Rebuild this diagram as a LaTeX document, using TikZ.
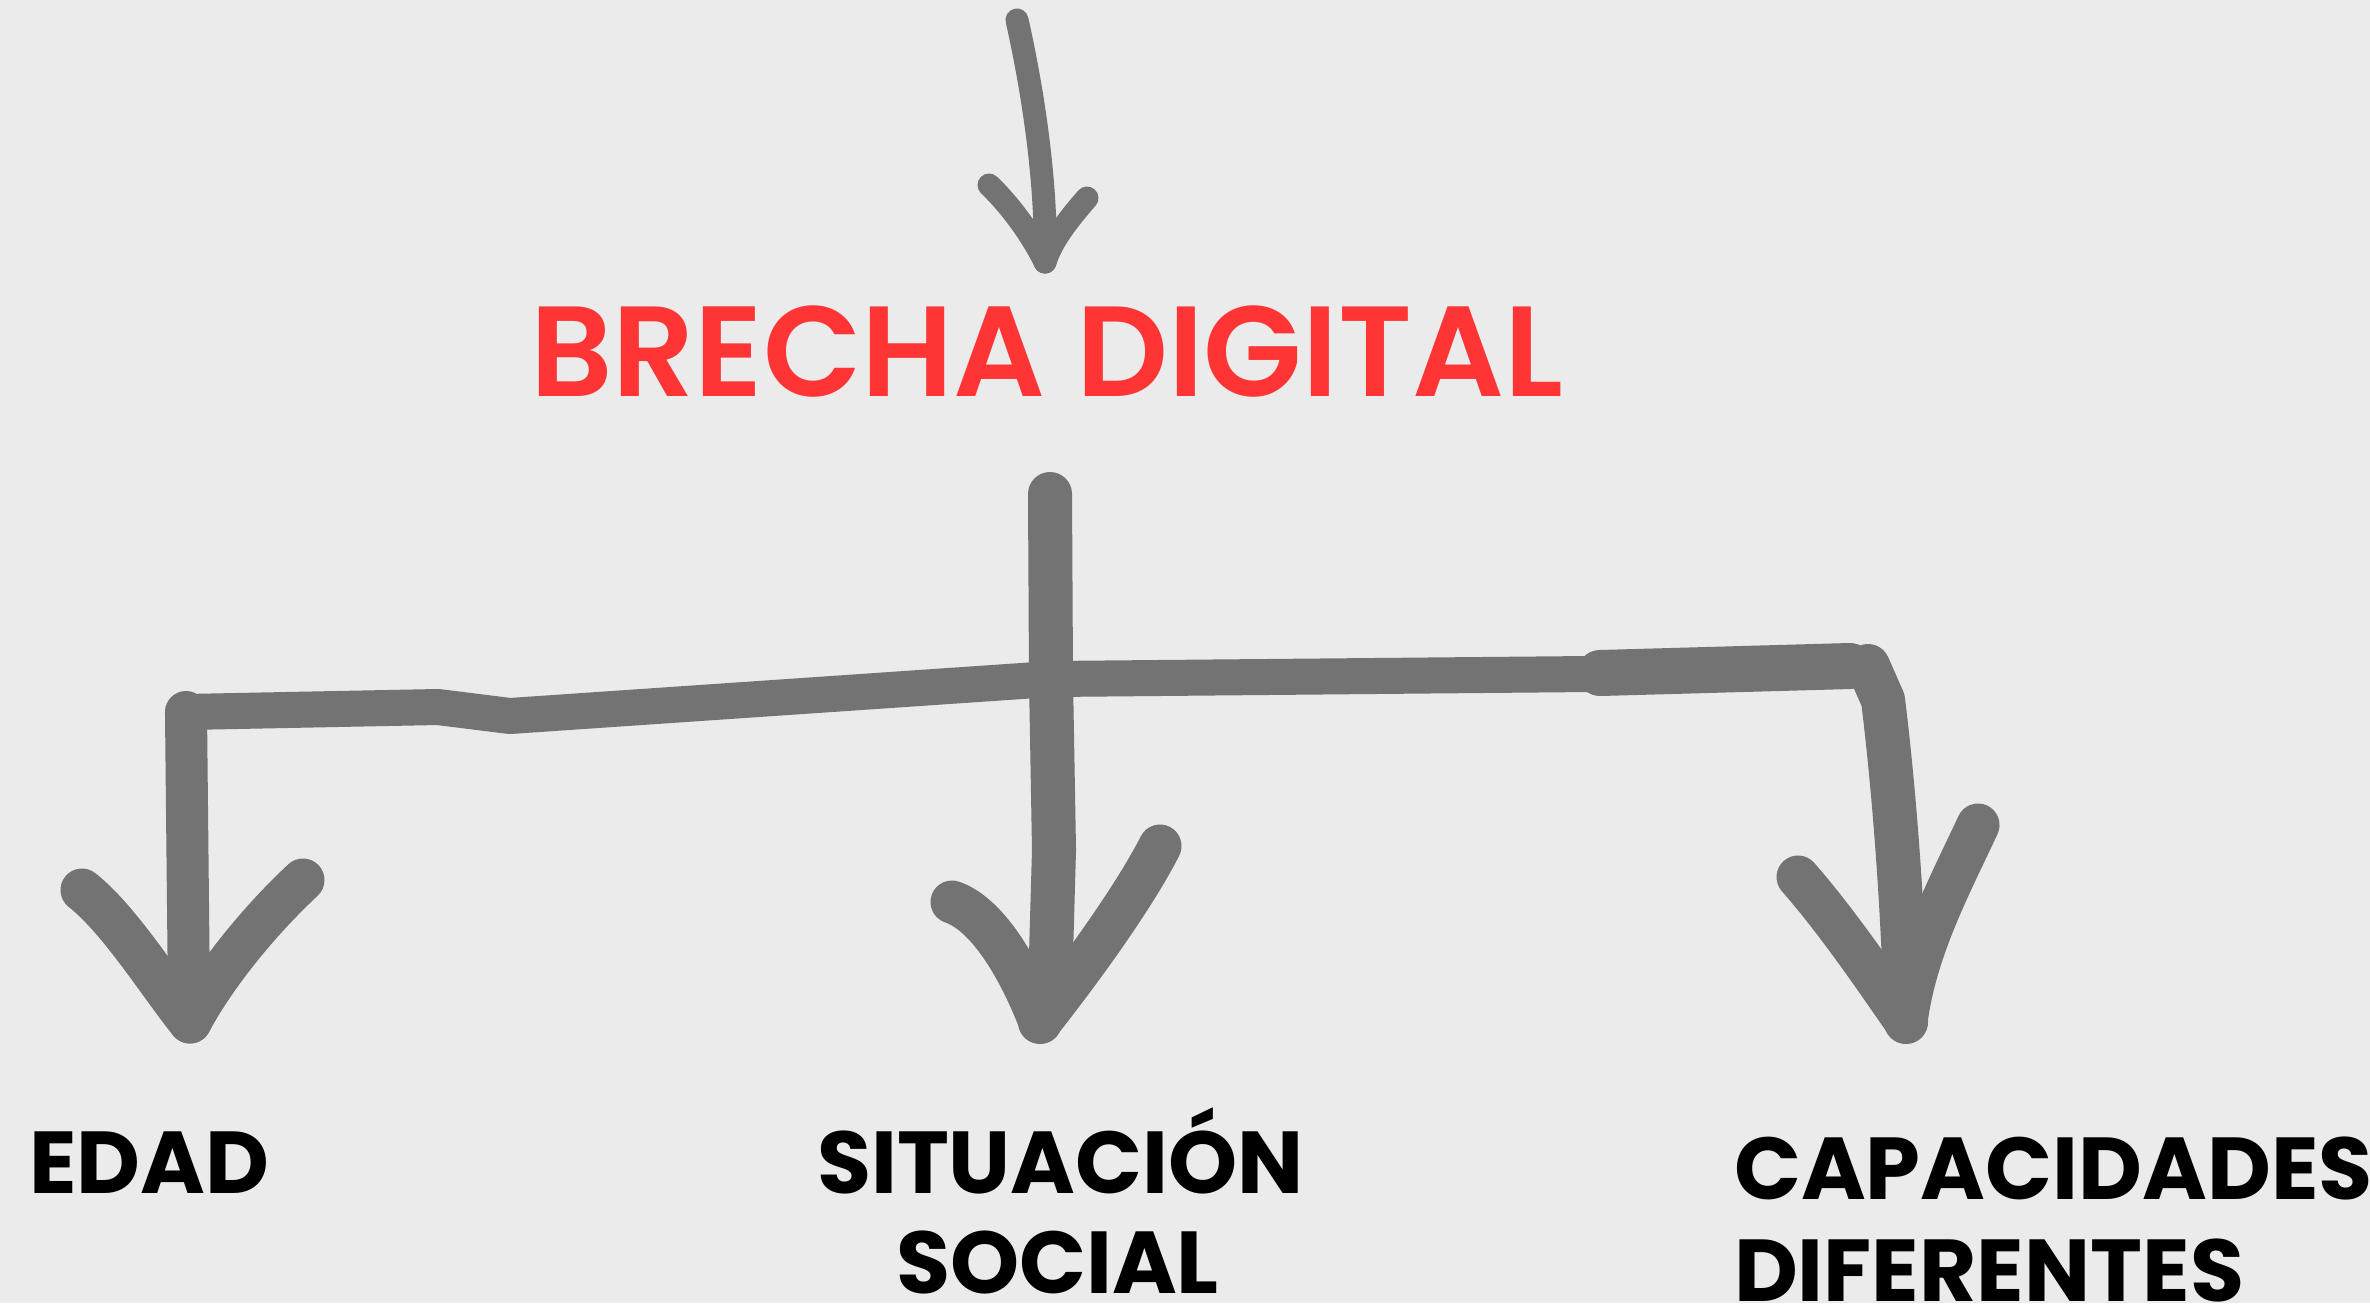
\documentclass[tikz,border=0pt]{standalone}
\usepackage{fontspec}
\setmainfont{Poppins}
\newfontfamily\popsemi{Poppins SemiBold}
\definecolor{bg}{HTML}{EBEBEB}
\definecolor{ink}{HTML}{737373}
\definecolor{redt}{HTML}{FF3535}
\begin{document}
\begin{tikzpicture}[x=0.01cm,y=-0.01cm,
  stroke/.style={draw=ink, line cap=round, line join=round},
  lbl/.style={inner sep=0pt, outer sep=0pt, anchor=base west, font=\fontsize{25}{30}\selectfont\bfseries},
  big/.style={inner sep=0pt, outer sep=0pt, anchor=base west, font=\fontsize{36.5}{44}\selectfont\popsemi}]
\fill[bg] (0,0) rectangle (2370,1303);
\useasboundingbox (0,0) rectangle (2370,1303);
\clip (0,0) rectangle (2370,1303);

% ---------- texts ----------
\node[big, text=redt] (brecha) at (530,396) {BRECHA DIGITAL};
\node[lbl] (edad) at (29,1193) {EDAD};
\node[lbl] (sit1) at (817,1193) {SITUACIÓN};
\node[lbl] (sit2) at (896,1293) {SOCIAL};
\node[lbl] (cap1) at (1734,1199) {CAPACIDADES};
\node[lbl] (cap2) at (1734,1301) {DIFERENTES};

% ---------- named points ----------
\coordinate (topstart) at (1017,20);
\coordinate (toptip) at (1045,262);
\coordinate (hubtop) at (1050,494);
\coordinate (hub) at (1051,679);
\coordinate (lcorner) at (186,712);
\coordinate (rcorner) at (1868,666);
\coordinate (ltip) at (190,1022);
\coordinate (mtip) at (1040,1022);
\coordinate (rtip) at (1906,1022);

% ---------- top arrow ----------
\draw[stroke, line width=0.23cm] (topstart) .. controls (1035,100) and (1047,190) .. (toptip);
\draw[stroke, line width=0.23cm] (989,185) .. controls (1010,205) and (1032,235) .. (toptip);
\draw[stroke, line width=0.23cm] (1087,198) .. controls (1068,220) and (1052,240) .. (toptip);

% ---------- bar ----------
\draw[stroke, line width=0.36cm] (lcorner) -- (438,707) -- (510,716) -- (hub) -- (1590,674) -- (rcorner);
\draw[stroke, line width=0.46cm] (1600,673) -- (1850,666);

% ---------- left branch ----------
\draw[stroke, line width=0.42cm] (lcorner) -- (189,1000) -- (ltip);
\draw[stroke, line width=0.43cm] (82,890) .. controls (120,920) and (160,985) .. (ltip);
\draw[stroke, line width=0.43cm] (303,880) .. controls (260,920) and (215,975) .. (ltip);

% ---------- middle branch ----------
\draw[stroke, line width=0.44cm] (hubtop) -- (hub) -- (1054,850) -- (1050,990) -- (mtip);
\draw[stroke, line width=0.43cm] (952,902) .. controls (990,915) and (1022,975) .. (mtip);
\draw[stroke, line width=0.43cm] (1160,846) .. controls (1135,895) and (1085,965) .. (mtip);

% ---------- right branch ----------
\draw[stroke, line width=0.44cm] (rcorner) -- (1883,700) .. controls (1893,780) and (1903,900) .. (rtip);
\draw[stroke, line width=0.43cm] (1798,877) .. controls (1840,925) and (1880,985) .. (rtip);
\draw[stroke, line width=0.43cm] (1978,825) .. controls (1950,885) and (1915,950) .. (rtip);
\end{tikzpicture}
\end{document}
